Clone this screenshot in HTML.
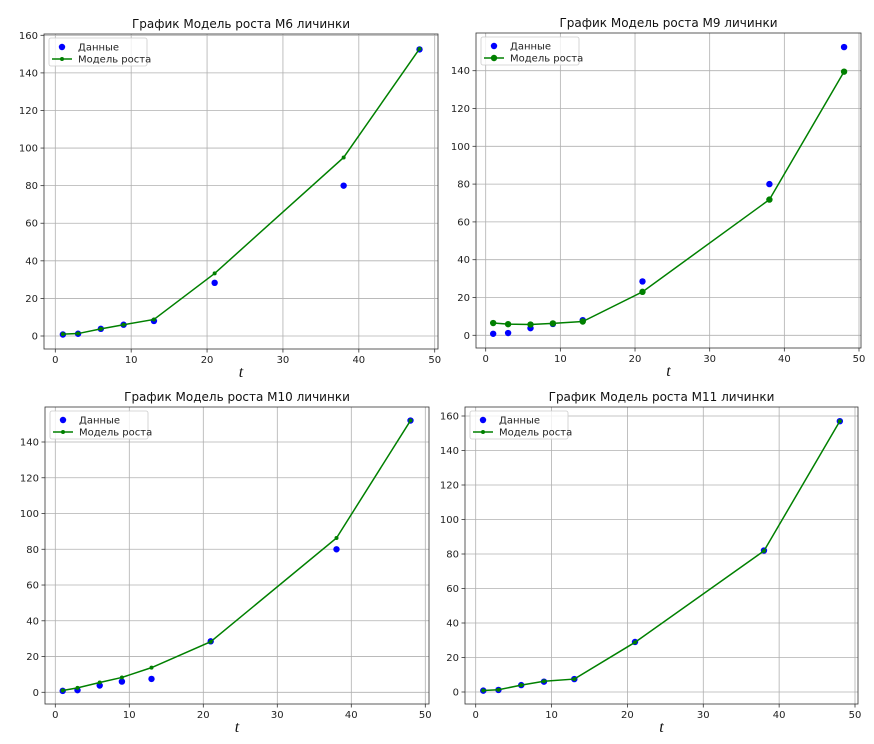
<!DOCTYPE html>
<html><head><meta charset="utf-8">
<style>
body{margin:0;background:#fff;width:874px;height:744px;overflow:hidden}
svg{display:block;font-family:"DejaVu Sans","Liberation Sans",sans-serif}
</style></head>
<body>
<svg id="fig" width="874" height="744" viewBox="0 0 874 744" xmlns="http://www.w3.org/2000/svg"></svg>
<script>
const tValues = [1,3,6,9,13,21,38,48];
const titles = ["График Модель роста М6 личинки","График Модель роста М9 личинки","График Модель роста М10 личинки","График Модель роста М11 личинки"];
const dataM6 = [0.8,1.2,3.8,6,8,28.3,80,152.5];
const modelM6 = [1,1.3,3.8,6,8.8,33.3,95,152.8];
const dataM9 = [0.8,1.2,3.8,6,8,28.5,80,152.5];
const modelM9 = [6.5,5.9,5.7,6.3,7.3,23,71.8,139.5];
const dataM10 = [0.8,1.2,3.8,6,7.5,28.5,80,152];
const modelM10 = [1,2.5,5.5,8.3,13.8,28.3,86.3,152];
const dataM11 = [0.8,1.2,4,6,7.5,29,82,157];
const modelM11 = [0.9,1.3,4,6.2,7.5,28.8,81.8,157];
const xTicks = [0,10,20,30,40,50];
const yTicksA = [0,20,40,60,80,100,120,140,160];
const yTicksB = [0,20,40,60,80,100,120,140];

const panels = [
 {box:[44,34,438,349], x0:55.3,x50:434.7, y0:336, yTop:35.3, yTopVal:160, yt:yTicksA, data:dataM6, model:modelM6, mr:2, title:titles[0], name:"m6"},
 {box:[476,33,861,348], x0:485.7,x50:859, y0:335.3, yTop:70.7, yTopVal:140, yt:yTicksB, data:dataM9, model:modelM9, mr:3.2, title:titles[1], name:"m9"},
 {box:[45,407,429,704], x0:55.3,x50:425.3, y0:692.3, yTop:442, yTopVal:140, yt:yTicksB, data:dataM10, model:modelM10, mr:2, title:titles[2], name:"m10"},
 {box:[465,407,858,704], x0:475.7,x50:855, y0:692, yTop:416, yTopVal:160, yt:yTicksA, data:dataM11, model:modelM11, mr:2, title:titles[3], name:"m11"}
];
const NS="http://www.w3.org/2000/svg";
const fig=document.getElementById('fig');
function mk(tag,attrs,parent){const e=document.createElementNS(NS,tag);for(const k in attrs)e.setAttribute(k,attrs[k]);(parent||fig).appendChild(e);return e;}

panels.forEach(p=>{
  const g=mk('g',{});
  
  
  const [L,T,R,B]=p.box;
  const sx=v=>p.x0+(p.x50-p.x0)*v/50;
  const sy=v=>p.y0+(p.yTop-p.y0)*v/p.yTopVal;
  mk('rect',{x:L,y:T,width:R-L,height:B-T,fill:'#fff'},g);
  xTicks.forEach(t=>{
    const x=sx(t);
    const gl=mk('line',{x1:x,x2:x,y1:T,y2:B,stroke:'#b0b0b0','stroke-width':0.8},g);
    
    
    mk('line',{x1:x,x2:x,y1:B,y2:B+3.5,stroke:'#333','stroke-width':0.8},g);
    const tx=mk('text',{x:x,y:B+14,'font-size':10,'text-anchor':'middle',fill:'#222'},g);
    tx.textContent=t;
    
    
  });
  p.yt.forEach(t=>{
    const y=sy(t);
    const gl=mk('line',{x1:L,x2:R,y1:y,y2:y,stroke:'#b0b0b0','stroke-width':0.8},g);
    
    
    mk('line',{x1:L-3.5,x2:L,y1:y,y2:y,stroke:'#333','stroke-width':0.8},g);
    const tx=mk('text',{x:L-6,y:y+3.5,'font-size':10,'text-anchor':'end',fill:'#222'},g);
    tx.textContent=t;
    
    
  });
  tValues.forEach((t,i)=>{
    const c=mk('circle',{cx:sx(t),cy:sy(p.data[i]),r:3.2,fill:'#0000ff'},g);
    
    
  });
  const pts=tValues.map((t,i)=>sx(t)+','+sy(p.model[i])).join(' ');
  const pl=mk('polyline',{points:pts,fill:'none',stroke:'#008000','stroke-width':1.5},g);
  
  
  tValues.forEach((t,i)=>{
    const c=mk('circle',{cx:sx(t),cy:sy(p.model[i]),r:p.mr,fill:'#008000'},g);
    
    
  });
  mk('rect',{x:L,y:T,width:R-L,height:B-T,fill:'none',stroke:'#333','stroke-width':0.8},g);
  const ti=mk('text',{x:(L+R)/2,y:T-6,'font-size':12,'text-anchor':'middle',fill:'#111'},g);
  ti.textContent=p.title;
  
  
  const xl=mk('text',{x:(L+R)/2,y:B+28,'font-size':16,'font-style':'italic','text-anchor':'middle',fill:'#111','font-family':'"Liberation Serif",serif'},g);
  xl.textContent='t';
  
  
  const lg=mk('g',{},g);
  
  
  const lx=L+5, ly=T+4;
  mk('rect',{x:lx,y:ly,width:98,height:28,rx:2,fill:'#fff','fill-opacity':0.8,stroke:'#ccc','stroke-width':0.8},lg);
  mk('circle',{cx:lx+13,cy:ly+9,r:3.2,fill:'#0000ff'},lg);
  const t1=mk('text',{x:lx+29,y:ly+12.5,'font-size':10,fill:'#222'},lg);
  t1.textContent='Данные';
  
  
  mk('line',{x1:lx+3,x2:lx+23,y1:ly+21,y2:ly+21,stroke:'#008000','stroke-width':1.5},lg);
  mk('circle',{cx:lx+13,cy:ly+21,r:p.mr,fill:'#008000'},lg);
  const t2=mk('text',{x:lx+29,y:ly+24.5,'font-size':10,fill:'#222'},lg);
  t2.textContent='Модель роста';
  
  
});
</script>
</body></html>
